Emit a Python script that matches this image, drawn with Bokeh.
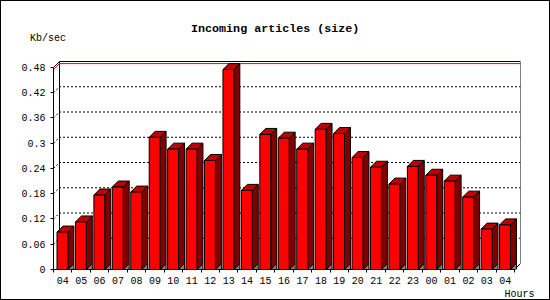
from bokeh.plotting import figure
from bokeh.layouts import column
from bokeh.models import FixedTicker, Range1d, InlineStyleSheet, Title
from bokeh.core.properties import value
from bokeh.embed import file_html
from bokeh.resources import INLINE

# ---- data ----
hours = ["04", "05", "06", "07", "08", "09", "10", "11", "12", "13", "14", "15",
         "16", "17", "18", "19", "20", "21", "22", "23", "00", "01", "02", "03", "04"]
values = [0.089, 0.113, 0.177, 0.196, 0.184, 0.314, 0.286, 0.286, 0.259, 0.475,
          0.188, 0.321, 0.312, 0.286, 0.333, 0.323, 0.266, 0.243, 0.203, 0.245,
          0.224, 0.210, 0.172, 0.096, 0.106]
y_ticks = [0, 0.06, 0.12, 0.18, 0.24, 0.3, 0.36, 0.42, 0.48]
y_tick_labels = ["0", "0.06", "0.12", "0.18", "0.24", "0.3", "0.36", "0.42", "0.48"]
title_text = "Incoming articles (size)"
y_title = "Kb/sec"
x_title = "Hours"

# ---- layout (page has a 1px border, so canvas is 548 x 298) ----
W = 548
HEAD = 56                               # header strip height (title + unit)
H = 298 - HEAD                          # main chart height
FL, FR, FT, FB = 52, 519, 3, 213        # main frame edges in its own pixels
SX = 18.44                              # pixels per hour slot
SY = 422.9                              # pixels per Kb/sec unit
n = len(values)
x_end = (FR - FL) / SX
y_end = (FB - FT) / SY
DX = 6 / SX                             # 3D depth in data units
DY = 6 / SY
ymax = y_ticks[-1]
BL, BR = 0.19, 0.78                     # bar front face within slot

FONT = "Liberation Mono"
SMALL = "10px"

# ---- header with title and unit ----
head = figure(width=W, height=HEAD, x_range=Range1d(0, W), y_range=Range1d(HEAD, 0),
              output_backend="svg", toolbar_location=None,
              x_axis_location=None, y_axis_location=None, min_border=0)
head.frame_align = False
head.outline_line_color = None
head.xgrid.visible = False
head.ygrid.visible = False
head.text(x=[273.7], y=[27.3], text=[title_text], text_align="center",
          text_baseline="alphabetic", text_font=value(FONT), text_font_style="bold",
          text_font_size="11.7px", text_color="black")
head.text(x=[28.6], y=[37.3], text=[y_title], text_align="left",
          text_baseline="alphabetic", text_font=value(FONT), text_font_size=SMALL,
          text_color="black")

# ---- main chart ----
p = figure(width=W, height=H, x_range=Range1d(0, x_end), y_range=Range1d(0, y_end),
           output_backend="svg", toolbar_location=None,
           min_border_left=FL, min_border_right=W - FR,
           min_border_top=FT, min_border_bottom=H - FB)
p.frame_align = False
p.outline_line_color = None
p.xgrid.visible = False
p.ygrid.visible = False
p.background_fill_color = "white"
p.border_fill_color = "white"

# back wall grid (dotted)
gx, gy = [], []
for t in y_ticks[1:-1]:
    gx.append([0, DX, n + DX])
    gy.append([t, t + DY, t + DY])
p.multi_line(gx, gy, line_color="black", line_width=1, line_dash="2 2")

# back wall frame
p.multi_line([[0, DX, n + DX, n + DX, n], [DX, DX]],
             [[ymax, ymax + DY, ymax + DY, DY, 0], [DY, ymax + DY]],
             line_color="black", line_width=1)

# max value line (red)
vmax = max(values)
p.line([0, DX, n + DX], [vmax, vmax + DY, vmax + DY], line_color="red", line_width=1)

# bars
lefts = [i + BL for i in range(n)]
rights = [i + BR for i in range(n)]

shadow_xs = [[r, r + DX, r + DX] for r in rights]
shadow_ys = [[0, DY, 0] for _ in rights]
p.patches(shadow_xs, shadow_ys, fill_color="#808080", line_color="black", line_width=1)

side_xs = [[r, r + DX, r + DX, r] for r in rights]
side_ys = [[0, DY, v + DY, v] for v in values]
p.patches(side_xs, side_ys, fill_color="#800000", line_color="black", line_width=1)

top_xs = [[l, l + DX, r + DX, r] for l, r in zip(lefts, rights)]
top_ys = [[v, v + DY, v + DY, v] for v in values]
p.patches(top_xs, top_ys, fill_color="#C00000", line_color="black", line_width=1)

p.quad(left=lefts, right=rights, bottom=0, top=values,
       fill_color="#FF0000", line_color="black", line_width=1)

# axes
ya = p.yaxis[0]
ya.ticker = FixedTicker(ticks=y_ticks)
ya.major_label_overrides = {t: s for t, s in zip(y_ticks, y_tick_labels)}
ya.bounds = (0, ymax)
ya.minor_tick_line_color = None
ya.major_tick_out = 3
ya.major_tick_in = 0
ya.major_label_standoff = 5
ya.major_label_text_font = FONT
ya.major_label_text_font_size = SMALL
ya.major_label_text_color = "black"
ya.axis_line_color = "black"

centers = [i + 0.5 for i in range(n)]
xa = p.xaxis[0]
xa.ticker = FixedTicker(ticks=centers, minor_ticks=list(range(n + 1)))
xa.major_label_overrides = {c: h for c, h in zip(centers, hours)}
xa.bounds = (0, n)
xa.major_tick_line_color = None
xa.major_tick_out = 3
xa.major_tick_in = 0
xa.minor_tick_out = 3
xa.minor_tick_in = 0
xa.minor_tick_line_color = "black"
xa.major_label_standoff = 4
xa.major_label_text_font = FONT
xa.major_label_text_font_size = SMALL
xa.major_label_text_color = "black"
xa.axis_line_color = "black"

p.add_layout(Title(text=x_title, align="right", offset=-14, standoff=0,
                   text_font=FONT, text_font_style="normal", text_font_size=SMALL,
                   text_color="black"), "below")

layout = column(head, p, spacing=0)
layout.stylesheets = [InlineStyleSheet(css=":host { border: 1px solid black; }")]

open("out.html", "w").write(file_html(layout, INLINE))
